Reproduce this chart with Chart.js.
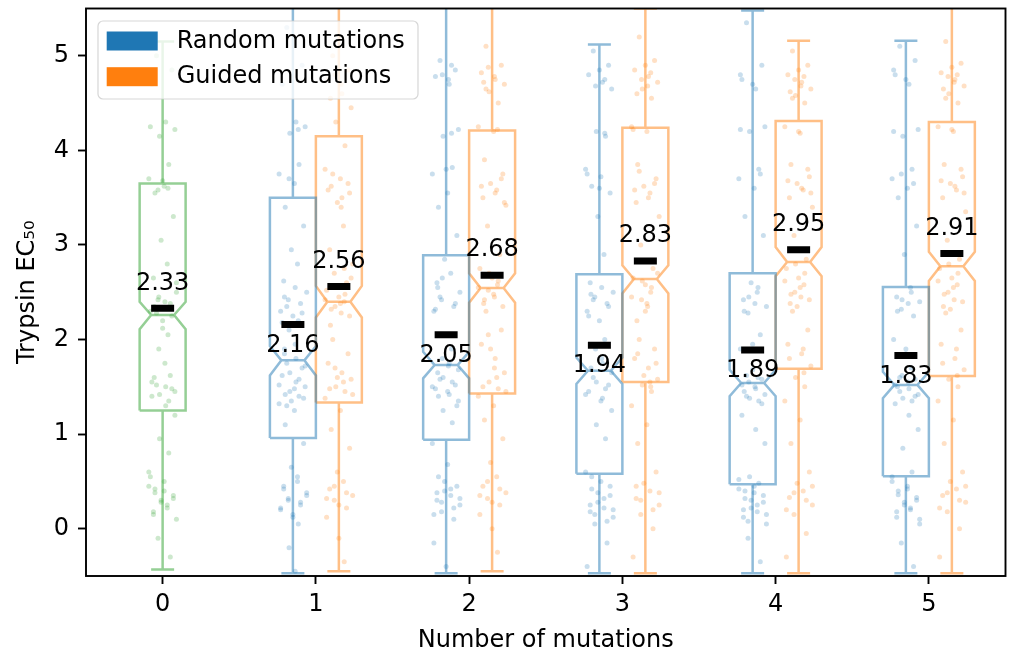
<!DOCTYPE html>
<html>
<head>
<meta charset="utf-8">
<script src="https://cdn.jsdelivr.net/npm/chart.js@4.4.0/dist/chart.umd.min.js"></script>
<style>
  body { margin: 0; background: #fff; }
  #wrap { width: 1011px; height: 652px; }
</style>
</head>
<body>
<div id="wrap"><canvas id="myChart"></canvas></div>
<script>
// x categories (number of mutations) and tick labels
var groups = [1, 2, 3, 4, 5];
var xTicks = [0, 1, 2, 3, 4, 5];
var yTicks = [0, 1, 2, 3, 4, 5];

// starting sequences (0 mutations)
var initMean = 2.33;
var initStats = { q1: 1.25, notchLo: 2.11, med: 2.26, notchHi: 2.40, q3: 3.65, lo: -0.43, hi: 5.15 };
var initPts = [5.0, 4.85, 4.7, 4.3, 4.22, 4.15, 3.85, 3.7, 3.62, 3.55, 3.3, 3.05, 2.8, 2.65, 2.5, 2.42, 2.38, 2.3,
  2.2, 2.05, 1.9, 1.75, 1.6, 1.52, 1.48, 1.4, 1.3, 1.2, 0.95, 0.8, 0.6, 0.5, 0.42, 0.35, 0.3, 0.25, 0.18, 0.1, -0.1, -0.3,
  4.25, 3.68, 3.6, 2.45, 2.4, 2.35, 2.28, 2.25, 1.55, 1.5, 1.45, 1.42, 1.35, 0.45, 0.4, 0.38, 0.32, 0.28, 0.22, 0.15,
  2.6, 3.58, 1.62, 0.55, 2.12];

// random mutations
var randomMean = [2.16, 2.05, 1.94, 1.89, 1.83];
var randomMedian = [1.78, 1.73, 1.67, 1.54, 1.52];
var randomNotchLo = [1.62, 1.59, 1.53, 1.40, 1.38];
var randomNotchHi = [1.93, 1.87, 1.81, 1.68, 1.66];
var randomQ1 = [0.96, 0.94, 0.58, 0.47, 0.555];
var randomQ3 = [3.50, 2.89, 2.69, 2.70, 2.556];
var randomLo = [-0.47, -0.47, -0.47, -0.47, -0.47];
var randomHi = [5.7, 5.7, 5.12, 5.48, 5.16];
var randomPts = [
  [5.3, 4.9, 4.7, 4.3, 4.25, 4.18, 3.85, 3.75, 3.65, 3.4, 3.2, 2.95, 2.8, 2.62, 2.5, 2.42, 2.38, 2.3, 2.25, 2.2, 2.1,
   1.95, 1.85, 1.75, 1.7, 1.62, 1.55, 1.5, 1.45, 1.4, 1.32, 1.25, 1.1, 0.9, 0.65, 0.55, 0.45, 0.38, 0.32, 0.28, 0.22, 0.15, 0.05, -0.2, -0.45,
   2.45, 2.35, 2.28, 2.18, 1.8, 1.72, 1.65, 1.58, 1.52, 1.48, 1.42, 1.38, 1.35, 0.5, 0.42, 0.35, 0.3, 0.25, 0.2, 0.12,
   4.22, 3.7, 2.55, 1.9, 1.3],
  [4.95, 4.85, 4.78, 4.7, 4.22, 4.15, 3.82, 3.75, 3.55, 3.4, 3.1, 2.85, 2.7, 2.6, 2.5, 2.42, 2.35, 2.3, 2.05, 1.9, 1.8,
   1.72, 1.65, 1.58, 1.52, 1.48, 1.42, 1.35, 1.25, 1.12, 0.9, 0.68, 0.55, 0.45, 0.4, 0.35, 0.3, 0.25, 0.18, 0.1, -0.15, -0.4,
   4.9, 4.8, 4.75, 2.55, 2.45, 2.38, 2.32, 1.75, 1.68, 1.6, 1.55, 1.5, 1.45, 1.4, 1.3, 0.5, 0.42, 0.38, 0.32, 0.28,
   0.22, 0.15, 3.8, 4.18, 2.65],
  [5.05, 4.9, 4.8, 4.72, 4.65, 4.2, 4.15, 3.8, 3.72, 3.62, 3.55, 3.3, 2.9, 2.6, 2.5, 2.45, 2.38, 2.3, 2.2, 2.0, 1.9,
   1.8, 1.7, 1.6, 1.52, 1.45, 1.38, 1.25, 1.1, 0.95, 0.6, 0.5, 0.42, 0.35, 0.28, 0.22, 0.18, 0.12, 0.05, -0.15, -0.4,
   4.85, 4.75, 4.68, 2.55, 2.48, 2.42, 2.35, 2.25, 1.75, 1.65, 1.55, 1.48, 1.42, 1.35, 0.55, 0.45, 0.38, 0.32, 0.25,
   0.2, 0.15, 0.08, 3.75, 3.6, 4.18],
  [5.35, 4.9, 4.75, 4.65, 4.25, 4.2, 3.8, 3.7, 3.6, 3.3, 3.1, 2.6, 2.5, 2.42, 2.35, 2.28, 2.05, 1.9, 1.68, 1.6, 1.55,
   1.5, 1.45, 1.4, 1.32, 1.2, 1.05, 0.9, 0.55, 0.48, 0.42, 0.38, 0.32, 0.28, 0.22, 0.18, 0.12, 0.05, -0.1, -0.35,
   4.8, 4.7, 2.55, 2.45, 2.38, 2.3, 1.62, 1.58, 1.52, 1.48, 1.42, 1.38, 1.35, 0.52, 0.45, 0.4, 0.35, 0.3, 0.25, 0.2,
   0.15, 0.08, 3.75, 4.22, 1.95],
  [5.1, 4.95, 4.8, 4.7, 4.22, 4.15, 3.8, 3.7, 3.6, 3.5, 3.2, 2.9, 2.55, 2.45, 2.4, 2.32, 2.25, 2.0, 1.85, 1.7, 1.62,
   1.55, 1.5, 1.45, 1.4, 1.32, 1.2, 1.05, 0.85, 0.6, 0.5, 0.42, 0.36, 0.3, 0.25, 0.2, 0.12, 0.05, -0.15, -0.4,
   4.85, 4.75, 2.5, 2.42, 2.38, 2.3, 1.6, 1.58, 1.52, 1.48, 1.42, 1.38, 1.35, 0.55, 0.45, 0.4, 0.33, 0.28, 0.22, 0.18,
   0.1, 3.75, 3.65, 4.2, 1.9]
];

// guided mutations
var guidedMean = [2.56, 2.68, 2.83, 2.95, 2.91];
var guidedMedian = [2.40, 2.545, 2.64, 2.82, 2.775];
var guidedNotchLo = [2.233, 2.39, 2.487, 2.67, 2.62];
var guidedNotchHi = [2.567, 2.70, 2.785, 2.977, 2.927];
var guidedQ1 = [1.334, 1.43, 1.55, 1.69, 1.614];
var guidedQ3 = [4.15, 4.21, 4.24, 4.31, 4.30];
var guidedLo = [-0.45, -0.45, -0.47, -0.47, -0.47];
var guidedHi = [5.7, 5.7, 5.5, 5.16, 5.7];
var guidedPts = [
  [5.0, 4.85, 4.75, 4.6, 4.45, 4.3, 4.05, 3.8, 3.7, 3.62, 3.55, 3.45, 3.2, 2.95, 2.8, 2.7, 2.6, 2.52, 2.45, 2.4, 2.35,
   2.28, 2.15, 2.0, 1.85, 1.75, 1.65, 1.58, 1.5, 1.45, 1.38, 1.25, 1.05, 0.85, 0.6, 0.5, 0.42, 0.35, 0.3, 0.22, 0.12, -0.1, -0.35,
   4.8, 4.7, 4.55, 3.75, 3.65, 3.58, 3.5, 2.65, 2.55, 2.48, 2.42, 2.38, 2.32, 2.25, 1.6, 1.55, 1.48, 1.42, 0.45, 0.38,
   0.32, 0.25, 2.75, 1.7, 3.4],
  [5.1, 4.9, 4.82, 4.75, 4.7, 4.62, 4.5, 4.25, 4.2, 3.9, 3.75, 3.65, 3.58, 3.5, 3.42, 3.2, 2.9, 2.75, 2.65, 2.58, 2.52,
   2.45, 2.38, 2.3, 2.1, 1.95, 1.8, 1.65, 1.55, 1.48, 1.4, 1.3, 1.15, 0.95, 0.7, 0.55, 0.45, 0.38, 0.32, 0.25, 0.15, 0.0, -0.25,
   4.88, 4.78, 4.72, 4.65, 3.7, 3.62, 3.55, 3.45, 2.7, 2.62, 2.55, 2.48, 2.42, 2.35, 1.9, 1.6, 1.5, 1.45, 0.5, 0.42,
   0.35, 0.28, 4.22, 2.05, 1.7],
  [5.2, 4.95, 4.85, 4.78, 4.72, 4.65, 4.55, 4.25, 4.2, 3.85, 3.7, 3.62, 3.55, 3.45, 3.3, 3.0, 2.75, 2.65, 2.58, 2.5, 2.42,
   2.35, 2.2, 2.0, 1.9, 1.8, 1.7, 1.58, 1.52, 1.45, 1.3, 1.1, 0.9, 0.6, 0.48, 0.4, 0.32, 0.25, 0.15, 0.0, -0.3,
   4.9, 4.82, 4.75, 4.68, 4.6, 3.78, 3.65, 3.58, 3.5, 2.7, 2.62, 2.55, 2.45, 2.38, 1.85, 1.75, 1.62, 1.55, 0.45, 0.38,
   0.3, 0.2, 4.22, 2.3, 1.5],
  [5.05, 4.9, 4.8, 4.72, 4.65, 4.58, 4.5, 4.25, 4.18, 3.85, 3.72, 3.65, 3.58, 3.5, 3.4, 3.1, 2.85, 2.75, 2.65, 2.58, 2.5,
   2.45, 2.38, 2.3, 2.1, 1.95, 1.85, 1.72, 1.6, 1.5, 1.35, 1.15, 0.9, 0.6, 0.48, 0.4, 0.33, 0.25, 0.15, -0.05, -0.3,
   4.85, 4.78, 4.75, 4.68, 4.62, 4.55, 3.8, 3.68, 3.6, 3.55, 2.8, 2.7, 2.62, 2.55, 2.48, 2.42, 2.35, 1.9, 1.8, 0.45,
   0.38, 0.3, 0.2, 4.2, 1.65],
  [5.15, 4.92, 4.82, 4.75, 4.68, 4.6, 4.5, 4.25, 4.2, 3.85, 3.72, 3.65, 3.58, 3.5, 3.35, 3.05, 2.85, 2.75, 2.65, 2.58, 2.5,
   2.42, 2.35, 2.28, 2.1, 1.95, 1.8, 1.68, 1.58, 1.5, 1.35, 1.15, 0.9, 0.6, 0.5, 0.42, 0.35, 0.28, 0.18, 0.0, -0.3,
   4.88, 4.8, 4.78, 4.72, 4.65, 4.55, 3.8, 3.68, 3.62, 3.55, 2.8, 2.7, 2.62, 2.55, 2.48, 2.4, 2.32, 1.9, 1.75, 0.45,
   0.38, 0.3, 0.22, 4.22, 1.62]
];

// styling
var BLUE = '31,119,180', ORANGE = '255,127,14', GREEN = '44,160,44';
var OFFSET = 0.15;      // box centre offset from the tick
var BOX_W = 0.3;
var CAP_W = 0.15;
var JITTER = [-0.04, 0.06, -0.07, 0.02, 0.08, -0.02, 0.04, -0.09, 0.01, -0.05, 0.07, -0.01, 0.03, -0.06,
  0.09, -0.03, 0.05, -0.08, 0.0, 0.035, -0.025, 0.015, -0.055];
var FONT = 'DejaVu Sans';

Chart.defaults.font.family = FONT;
Chart.defaults.font.size = 24;
Chart.defaults.color = '#000';

function boxOutline(c, s) {
  var w = BOX_W / 2, n = w / 2, k = CAP_W / 2;
  var gap = { x: c, y: null };
  return [
    { x: c - w, y: s.q1 }, { x: c - w, y: s.notchLo }, { x: c - n, y: s.med }, { x: c - w, y: s.notchHi }, { x: c - w, y: s.q3 },
    { x: c + w, y: s.q3 }, { x: c + w, y: s.notchHi }, { x: c + n, y: s.med }, { x: c + w, y: s.notchLo }, { x: c + w, y: s.q1 },
    { x: c - w, y: s.q1 }, gap,
    { x: c - n, y: s.med }, { x: c + n, y: s.med }, gap,
    { x: c, y: s.q1 }, { x: c, y: s.lo }, gap,
    { x: c - k, y: s.lo }, { x: c + k, y: s.lo }, gap,
    { x: c, y: s.q3 }, { x: c, y: s.hi }, gap,
    { x: c - k, y: s.hi }, { x: c + k, y: s.hi }
  ];
}

function boxSet(c, s, rgb) {
  return {
    type: 'line', data: boxOutline(c, s), borderColor: 'rgba(' + rgb + ',0.5)', borderWidth: 2.5,
    pointRadius: 0, fill: false, tension: 0, spanGaps: false, order: 2
  };
}

function pointSet(c, ys, rgb) {
  return {
    type: 'scatter',
    data: ys.map(function (y, i) { return { x: c + JITTER[i % JITTER.length], y: y }; }),
    pointRadius: 2.5, pointBorderWidth: 0, pointBackgroundColor: 'rgba(' + rgb + ',0.24)', order: 3
  };
}

var datasets = [];
// means on top
datasets.push({
  type: 'scatter', order: 0, meanLabel: -25,
  data: [{ x: 0, y: initMean }].concat(groups.map(function (g, i) { return { x: g + OFFSET, y: guidedMean[i] }; })),
  pointStyle: 'line', pointRadius: 11.5, pointBorderWidth: 7, borderWidth: 7, pointBorderColor: '#000'
});
datasets.push({
  type: 'scatter', order: 1, meanLabel: 21,
  data: groups.map(function (g, i) { return { x: g - OFFSET, y: randomMean[i] }; }),
  pointStyle: 'line', pointRadius: 11.5, pointBorderWidth: 7, borderWidth: 7, pointBorderColor: '#000'
});

datasets.push(boxSet(0, initStats, GREEN));
groups.forEach(function (g, i) {
  datasets.push(boxSet(g - OFFSET, {
    q1: randomQ1[i], notchLo: randomNotchLo[i], med: randomMedian[i], notchHi: randomNotchHi[i],
    q3: randomQ3[i], lo: randomLo[i], hi: randomHi[i]
  }, BLUE));
  datasets.push(boxSet(g + OFFSET, {
    q1: guidedQ1[i], notchLo: guidedNotchLo[i], med: guidedMedian[i], notchHi: guidedNotchHi[i],
    q3: guidedQ3[i], lo: guidedLo[i], hi: guidedHi[i]
  }, ORANGE));
});

datasets.push(pointSet(0, initPts, GREEN));
groups.forEach(function (g, i) {
  datasets.push(pointSet(g - OFFSET, randomPts[i], BLUE));
  datasets.push(pointSet(g + OFFSET, guidedPts[i], ORANGE));
});

var legendItems = [
  { label: 'Random mutations', color: 'rgb(' + BLUE + ')' },
  { label: 'Guided mutations', color: 'rgb(' + ORANGE + ')' }
];

var meanLabels = {
  id: 'meanLabels',
  afterDatasetsDraw: function (chart) {
    var ctx = chart.ctx;
    ctx.save();
    ctx.font = '24px "' + FONT + '"';
    ctx.fillStyle = '#000';
    ctx.textAlign = 'center';
    ctx.textBaseline = 'middle';
    chart.data.datasets.forEach(function (ds, i) {
      if (!ds.meanLabel) return;
      chart.getDatasetMeta(i).data.forEach(function (pt, j) {
        ctx.fillText(ds.data[j].y.toFixed(2), pt.x, pt.y + ds.meanLabel);
      });
    });
    // frame on all four sides
    var a = chart.chartArea;
    ctx.strokeStyle = '#000';
    ctx.lineWidth = 1.9;
    ctx.strokeRect(a.left, a.top, a.right - a.left, a.bottom - a.top);
    ctx.restore();
  }
};

var boxLegend = {
  id: 'boxLegend',
  afterDraw: function (chart) {
    var ctx = chart.ctx;
    var a = chart.chartArea;
    var x0 = a.left + 12, y0 = a.top + 12.5;
    ctx.save();
    ctx.beginPath();
    ctx.roundRect(x0, y0, 320, 78, 5);
    ctx.fillStyle = 'rgba(255,255,255,0.8)';
    ctx.fill();
    ctx.strokeStyle = 'rgba(204,204,204,0.8)';
    ctx.lineWidth = 1.2;
    ctx.stroke();
    ctx.font = '24px "' + FONT + '"';
    ctx.textBaseline = 'middle';
    legendItems.forEach(function (item, i) {
      var yy = y0 + 10.5 + i * 35.7;
      ctx.fillStyle = item.color;
      ctx.fillRect(x0 + 8.7, yy, 51, 19);
      ctx.fillStyle = '#000';
      ctx.fillText(item.label, x0 + 78.7, yy + 10);
    });
    ctx.restore();
  }
};

function setTicks(values) {
  return function (scale) { scale.ticks = values.map(function (v) { return { value: v }; }); };
}

// fixed axis size, and no extra room reserved for the end tick labels
function fixSize(size) {
  return function (scale) {
    if (size.h) scale.height = size.h;
    if (size.w) scale.width = size.w;
    scale.getPadding = function () { return { left: 0, top: 0, right: 0, bottom: 0 }; };
  };
}

var ctx = document.getElementById('myChart').getContext('2d');
var myChart = new Chart(ctx, {
  type: 'scatter',
  data: { datasets: datasets },
  options: {
    responsive: true,
    maintainAspectRatio: false,
    animation: false,
    events: [],
    layout: { autoPadding: false, padding: { left: 0, top: 8.5, right: 5.5, bottom: 0 } },
    plugins: { legend: { display: false }, tooltip: { enabled: false } },
    scales: {
      x: {
        type: 'linear', min: -0.5, max: 5.5,
        afterBuildTicks: setTicks(xTicks),
        afterFit: fixSize({ h: 76 }),
        border: { display: false },
        grid: { drawOnChartArea: false, drawTicks: true, tickLength: 8, tickWidth: 1.9, tickColor: '#000' },
        ticks: { padding: 6, color: '#000', font: { size: 24 }, maxRotation: 0 },
        title: { display: true, text: 'Number of mutations', color: '#000', font: { size: 24 }, padding: { top: 0, bottom: -3 } }
      },
      y: {
        type: 'linear', min: -0.5, max: 5.5,
        afterBuildTicks: setTicks(yTicks),
        afterFit: fixSize({ w: 86 }),
        border: { display: false },
        grid: { drawOnChartArea: false, drawTicks: true, tickLength: 8, tickWidth: 1.9, tickColor: '#000' },
        ticks: { padding: 9, color: '#000', font: { size: 24 } },
        title: { display: true, text: 'Trypsin EC₅₀', color: '#000', font: { size: 24 }, padding: { top: 13, bottom: 0 } }
      }
    }
  },
  plugins: [meanLabels, boxLegend]
});
</script>
</body>
</html>
